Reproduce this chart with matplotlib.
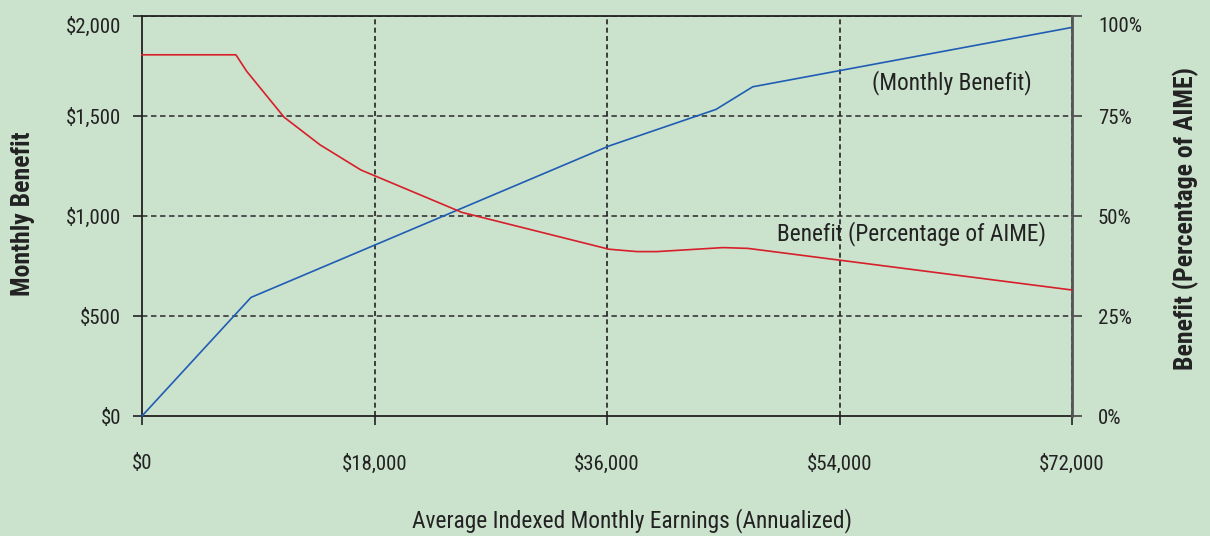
import matplotlib
matplotlib.use("Agg")
import matplotlib.pyplot as plt
from matplotlib import font_manager as fm
from matplotlib.ticker import FuncFormatter
import matplotlib.transforms as mtransforms

# ---- data ----
benefit_x = [0, 8440, 36150, 44440, 47280, 72000]
benefit_y = [0, 593, 1350, 1533, 1646, 1943]

pct_x = [0, 7270, 8100, 11000, 13780, 16950, 24770, 36150, 38320, 39870, 44980, 46920, 72000]
pct_y = [90.3, 90.3, 86.2, 74.7, 67.8, 61.5, 50.9, 41.7, 41.1, 41.1, 42.1, 41.9, 31.5]

x_ticks = [0, 18000, 36000, 54000, 72000]
y_ticks = [0, 500, 1000, 1500, 2000]
pct_ticks = [0, 25, 50, 75, 100]

BG = "#cbe2cd"
RED = "#d71f2a"
BLUE = "#1f5db4"
GRID = "#444444"
TXT = "#222222"

# pick a condensed font if one is installed
names = {f.name for f in fm.fontManager.ttflist}
cond = None
for cand in ['Roboto Condensed', 'Liberation Sans Narrow', 'Open Sans Condensed',
             'DejaVu Sans Condensed', 'Noto Sans Condensed', 'Arial Narrow']:
    if cand in names:
        cond = cand
        break
stretch = 'normal'
if cond is None:
    if any(f.name == 'DejaVu Sans' and f.stretch == 'condensed' for f in fm.fontManager.ttflist):
        cond = 'DejaVu Sans'
        stretch = 'condensed'

if cond is not None:
    FAM = [cond, 'DejaVu Sans']
    TS, LS, BS = 15, 16.8, 18.5
else:
    FAM = ['Liberation Sans', 'DejaVu Sans']
    TS, LS, BS = 13, 14, 15
plt.rcParams['font.family'] = FAM
plt.rcParams['font.stretch'] = stretch

fig = plt.figure(figsize=(12.1, 5.36), dpi=100, facecolor=BG)
ax = fig.add_axes([142/1210, 120/536, 930/1210, 400/536])
ax.set_facecolor(BG)
ax2 = ax.twinx()

ax.set_xlim(0, 72000)
ax.set_ylim(0, 2000)
ax2.set_ylim(0, 100)

# grid
for y in y_ticks[1:]:
    ax.axhline(y, color=GRID, lw=1.3, ls=(0, (3, 2)), zorder=1)
for x in x_ticks[1:]:
    ax.axvline(x, color="#222222", lw=1.2, ls=(0, (3, 2)), zorder=1)

ax.plot(benefit_x, benefit_y, color=BLUE, lw=1.2, zorder=3, clip_on=False)
ax2.plot(pct_x, pct_y, color=RED, lw=1.2, zorder=3, clip_on=False)

# ticks
ax.set_xticks(x_ticks)
ax.xaxis.set_major_formatter(FuncFormatter(lambda v, p: f"${int(v):,}"))
ax.set_yticks(y_ticks)
ax.yaxis.set_major_formatter(FuncFormatter(lambda v, p: f"${int(v):,}"))
ax2.set_yticks(pct_ticks)
ax2.yaxis.set_major_formatter(FuncFormatter(lambda v, p: f"{int(v)}%"))

ax.tick_params(axis='x', direction='out', length=6.5, width=1.2, colors=TXT,
               labelsize=TS, pad=21, labelcolor=TXT)
ax.tick_params(axis='y', direction='out', length=6.5, width=1.2, colors=TXT,
               labelsize=TS, pad=8.5, labelcolor=TXT)
ax2.tick_params(axis='y', direction='out', length=7.2, width=1.2, colors='#444444',
                labelsize=TS, pad=11.5, labelcolor=TXT)

for s in ['left', 'bottom', 'top']:
    ax.spines[s].set_color(TXT)
    ax.spines[s].set_linewidth(1.3)
ax.spines['right'].set_visible(False)
for s in ['left', 'bottom', 'top']:
    ax2.spines[s].set_visible(False)
ax2.spines['right'].set_color('#555555')
ax2.spines['right'].set_linewidth(2.0)

# nudge top tick labels down a bit as in the reference
off = mtransforms.ScaledTranslation(0, -9/100, fig.dpi_scale_trans)
ax.get_yticklabels()[-1].set_transform(ax.get_yticklabels()[-1].get_transform() + off)
ax2.get_yticklabels()[-1].set_transform(ax2.get_yticklabels()[-1].get_transform() + off)

# axis titles
fig.text(23/1210, 1 - 214/536, "Monthly Benefit", rotation=90, fontsize=BS,
         fontweight='bold', color=TXT, ha='center', va='center')
fig.text(1186/1210, 1 - 219/536, "Benefit (Percentage of AIME)", rotation=90,
         fontsize=BS, fontweight='bold', color=TXT, ha='center', va='center')
fig.text(632/1210, 1 - 521/536, "Average Indexed Monthly Earnings (Annualized)",
         fontsize=LS, color=TXT, ha='center', va='center')

# inline series labels
ax.text(62670, 1665, "(Monthly Benefit)", fontsize=LS, color=TXT,
        ha='center', va='center', zorder=4)
ax.text(59610, 910, "Benefit (Percentage of AIME)", fontsize=LS, color=TXT,
        ha='center', va='center', zorder=4)

fig.savefig("out.png", dpi=100, facecolor=BG)
